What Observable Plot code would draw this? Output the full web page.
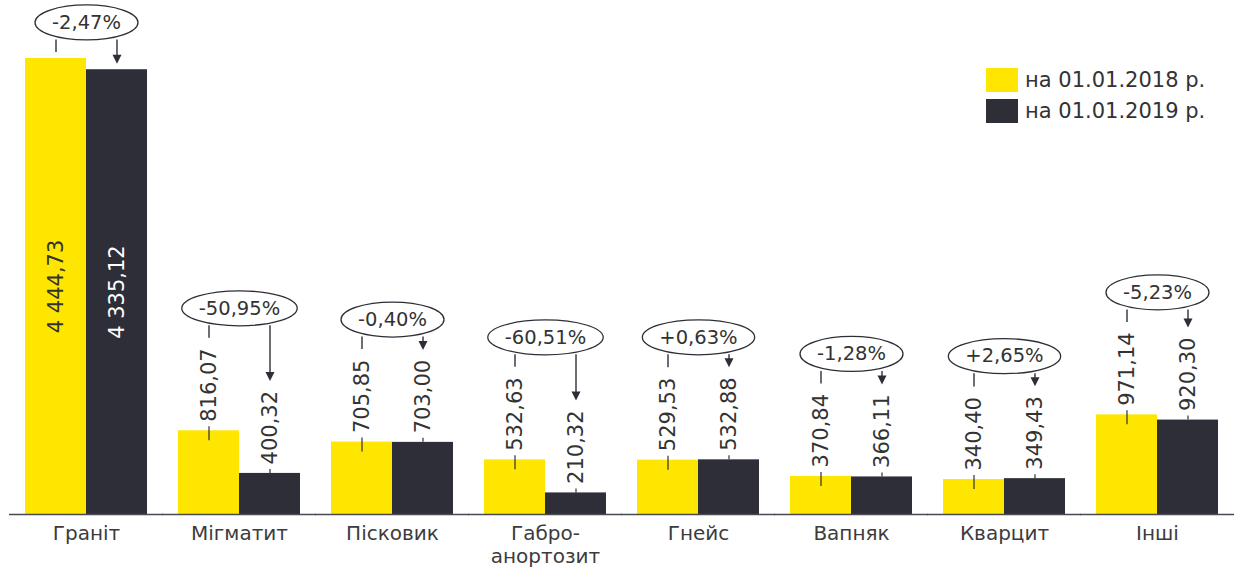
<!DOCTYPE html>
<html>
<head>
<meta charset="utf-8">
<script src="https://cdn.jsdelivr.net/npm/d3@7"></script>
<script src="https://cdn.jsdelivr.net/npm/@observablehq/plot@0.6"></script>
<style>
  html, body { margin: 0; padding: 0; background: #fff; }
  #chart { position: relative; width: 1234px; height: 569px; font-family: "DejaVu Sans", Verdana, sans-serif; }
  #chart svg { display: block; }
  .legend { position: absolute; left: 986px; top: 68px; color: #333; font-size: 21px; }
  .legend .item { display: flex; align-items: center; height: 24px; margin-bottom: 7px; white-space: nowrap; }
  .legend .sw { display: inline-block; width: 32px; height: 24px; margin-right: 7px; }
</style>
</head>
<body>
<div id="chart"></div>
<script>
// Reserves of rock by type, two reporting dates
const categories = ["Граніт", "Мігматит", "Пісковик", "Габро-\nанортозит", "Гнейс", "Вапняк", "Кварцит", "Інші"];
const series = ["на 01.01.2018 р.", "на 01.01.2019 р."];
const values2018 = [4444.73, 816.07, 705.85, 532.63, 529.53, 370.84, 340.40, 971.14];
const values2019 = [4335.12, 400.32, 703.00, 210.32, 532.88, 366.11, 349.43, 920.30];
const changes = ["-2,47%", "-50,95%", "-0,40%", "-60,51%", "+0,63%", "-1,28%", "+2,65%", "-5,23%"];
const colors = ["#FFE600", "#2E2E38"];

const W = 1234, H = 569;
const marginTop = 1, marginBottom = 55, marginLeft = 9, marginRight = 0;
const yMax = 5000;
const plotH = H - marginTop - marginBottom;
const ppu = plotH / yMax;           // pixels per data unit on the y scale
const px = p => p / ppu;            // pixel offset expressed in data units

const ink = "#2E2E38";
const font = '"DejaVu Sans", Verdana, sans-serif';
const valueSize = 21, pctSize = 19.5, catSize = 20;

const locale = d3.formatLocale({decimal: ",", thousands: " ", grouping: [3], currency: ["", ""]});
const fmt = locale.format(",.2f");

const ctx = document.createElement("canvas").getContext("2d");
const measure = (s, size) => { ctx.font = `${size}px ${font}`; return ctx.measureText(s).width; };

// one row per bar
const rows = categories.flatMap((c, i) => [values2018[i], values2019[i]].map((v, k) => {
  const label = fmt(v);
  const len = measure(label, valueSize);
  const inside = v * ppu > len + 60;
  const endPx = inside ? 6 : 9 + len + 10;     // where the callout line stops above the bar
  return {cat: c, s: series[k], v, label, inside, end: v + px(endPx)};
}));

// one callout (ellipse + lines) per category
const notes = categories.map((c, i) => {
  const [a, b] = rows.filter(r => r.cat === c);
  const ey = Math.max(a.end, b.end) + px(30);
  const rx = measure(changes[i], pctSize) / 2 + 17;
  return {cat: c, text: changes[i], ey, bottom: ey - px(17.5), end1: a.end, end2: b.end, rx};
});

// ellipse symbol: horizontal radius from the dot size, fixed vertical radius
const ellipse = {
  draw(context, size) {
    const rx = Math.sqrt(size / Math.PI), ry = 17.5, k = 0.5523;
    context.moveTo(-rx, 0);
    context.bezierCurveTo(-rx, -ry * k, -rx * k, -ry, 0, -ry);
    context.bezierCurveTo(rx * k, -ry, rx, -ry * k, rx, 0);
    context.bezierCurveTo(rx, ry * k, rx * k, ry, 0, ry);
    context.bezierCurveTo(-rx * k, ry, -rx, ry * k, -rx, 0);
    context.closePath();
  }
};
// arrow head with its tip at the anchor point, pointing down
const head = {
  draw(context) {
    context.moveTo(0, 0);
    context.lineTo(-4.5, -9);
    context.lineTo(4.5, -9);
    context.closePath();
  }
};

const outside = rows.filter(r => !r.inside);
const insideRows = rows.filter(r => r.inside);

const marks = [
  Plot.barY(rows, {fx: "cat", x: "s", y: "v", fill: "s"}),
  Plot.ruleY([0], {stroke: "#4a4a52", strokeWidth: 1.6, insetLeft: -16, insetRight: -16}),
  // leader ticks at the bar tops
  Plot.ruleX(outside, {fx: "cat", x: "s", y1: d => d.v + px(4), y2: d => d.s === series[0] ? d.v - px(10) : d.v, stroke: ink, strokeWidth: 1.2}),
  // value labels above the bars
  Plot.text(outside, {fx: "cat", x: "s", y: "v", text: "label", rotate: -90, textAnchor: "start", dy: -9, fontSize: valueSize, fill: "#333"}),
  // value labels inside tall bars
  Plot.text(insideRows.filter(d => d.s === series[0]), {fx: "cat", x: "s", y: d => d.v / 2, text: "label", rotate: -90, fontSize: valueSize, fill: "#333"}),
  Plot.text(insideRows.filter(d => d.s === series[1]), {fx: "cat", x: "s", y: d => d.v / 2, text: "label", rotate: -90, fontSize: valueSize, fill: "#fff"}),
  // callout lines
  Plot.ruleX(notes, {fx: "cat", x: () => series[0], y1: "bottom", y2: "end1", stroke: ink, strokeWidth: 1.4}),
  Plot.ruleX(notes, {fx: "cat", x: () => series[1], y1: "bottom", y2: d => d.end2 + px(4), stroke: ink, strokeWidth: 1.4}),
  Plot.dot(notes, {fx: "cat", x: () => series[1], y: "end2", symbol: head, fill: ink, stroke: "none"}),
  // ellipses and change labels
  ...notes.map(n => Plot.dot([n], {fx: "cat", y: "ey", r: n.rx, symbol: ellipse, fill: "#fff", stroke: ink, strokeWidth: 1.3})),
  Plot.text(notes, {fx: "cat", y: "ey", text: "text", fontSize: pctSize, fill: "#333"}),
  Plot.axisFx({anchor: "bottom", tickSize: 0, tickPadding: 10, fontSize: catSize, lineHeight: 1.12, color: "#3c3c3c", label: null})
];

const chart = Plot.plot({
  width: W,
  height: H,
  marginTop, marginBottom, marginLeft, marginRight,
  style: {fontFamily: font, background: "#fff", overflow: "visible"},
  fx: {domain: categories, paddingInner: 0.2, paddingOuter: 0.1, label: null},
  x: {domain: series, padding: 0, axis: null},
  y: {domain: [0, yMax], axis: null},
  color: {domain: series, range: colors},
  marks
});

const root = document.getElementById("chart");
root.appendChild(chart);

const legend = document.createElement("div");
legend.className = "legend";
series.forEach((s, i) => {
  const item = document.createElement("div");
  item.className = "item";
  const sw = document.createElement("span");
  sw.className = "sw";
  sw.style.background = colors[i];
  item.appendChild(sw);
  item.appendChild(document.createTextNode(s));
  legend.appendChild(item);
});
root.appendChild(legend);
</script>
</body>
</html>
